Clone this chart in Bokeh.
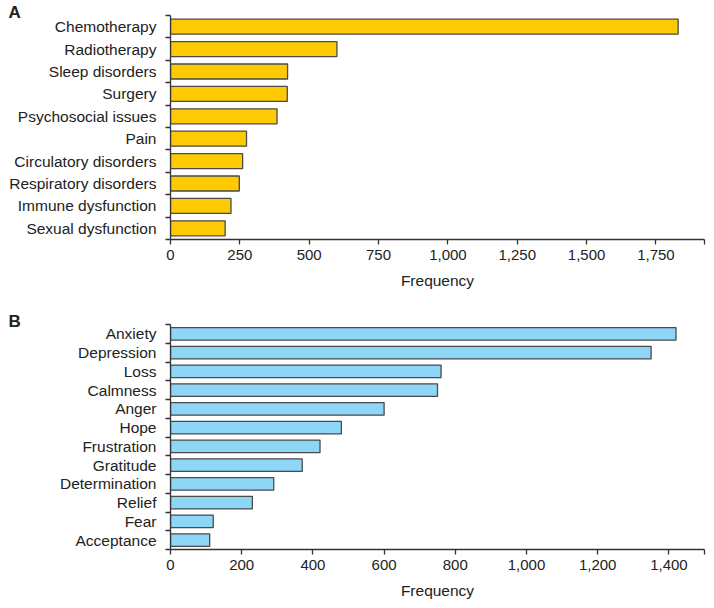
from bokeh.plotting import figure
from bokeh.models import ColumnDataSource, FixedTicker, Range1d, NumeralTickFormatter
from bokeh.layouts import column
from bokeh.embed import file_html
from bokeh.resources import INLINE

# ---- data ----
a_categories = ["Chemotherapy", "Radiotherapy", "Sleep disorders", "Surgery",
                "Psychosocial issues", "Pain", "Circulatory disorders",
                "Respiratory disorders", "Immune dysfunction", "Sexual dysfunction"]
a_values = [1830, 600, 422, 421, 384, 274, 260, 248, 218, 197]
a_xticks = [0, 250, 500, 750, 1000, 1250, 1500, 1750]
a_xmax = 1925

b_categories = ["Anxiety", "Depression", "Loss", "Calmness", "Anger", "Hope",
                "Frustration", "Gratitude", "Determination", "Relief", "Fear", "Acceptance"]
b_values = [1420, 1350, 760, 750, 600, 480, 420, 370, 290, 230, 120, 110]
b_xticks = [0, 200, 400, 600, 800, 1000, 1200, 1400]
b_xmax = 1500

FONT = "Liberation Sans"
TXT = "#222222"
AXC = "#333333"
FRAME_W = 534
LEFT = 170


def panel(letter, cats, vals, xticks, xmax, fill, top, frame_h, bottom, letter_standoff):
    n = len(cats)
    centers = [n - i - 0.5 for i in range(n)]
    src = ColumnDataSource(dict(y=centers, v=vals, name=cats))
    p = figure(frame_width=FRAME_W, frame_height=frame_h,
               x_range=Range1d(0, xmax), y_range=Range1d(0, n),
               output_backend="svg", toolbar_location=None,
               min_border_left=LEFT, min_border_right=10,
               min_border_top=top, min_border_bottom=bottom)
    p.hbar(y="y", left=0, right="v", height=0.67, source=src,
           fill_color=fill, line_color="#4a4a4a", line_width=1.3)
    p.outline_line_color = None
    p.grid.visible = False

    # panel letter as the plot title, pushed to the left edge
    p.title.text = letter
    p.title.align = "left"
    p.title.offset = -(LEFT - 8)
    p.title.standoff = letter_standoff
    p.title.text_font = FONT
    p.title.text_font_size = "17px"
    p.title.text_font_style = "bold"
    p.title.text_color = TXT

    # y axis: ticks at category boundaries, labels at centers
    ya = p.yaxis[0]
    ya.ticker = FixedTicker(ticks=centers, minor_ticks=list(range(n + 1)))
    ya.major_label_overrides = {c: name for c, name in zip(centers, cats)}
    ya.major_tick_out = 0
    ya.major_tick_in = 0
    ya.minor_tick_out = 5
    ya.minor_tick_in = 0
    ya.minor_tick_line_color = AXC
    ya.minor_tick_line_width = 1.3
    ya.axis_line_color = AXC
    ya.axis_line_width = 1.3
    ya.major_label_standoff = 9
    ya.major_label_text_font = FONT
    ya.major_label_text_font_size = "15.5px"
    ya.major_label_text_color = TXT

    xa = p.xaxis[0]
    xa.ticker = FixedTicker(ticks=xticks + [xmax], minor_ticks=[])
    xa.formatter = NumeralTickFormatter(format="0,0")
    xa.major_label_overrides = {xmax: ""}
    xa.major_tick_out = 5
    xa.major_tick_in = 0
    xa.major_tick_line_color = AXC
    xa.major_tick_line_width = 1.3
    xa.axis_line_color = AXC
    xa.axis_line_width = 1.3
    xa.major_label_standoff = 5
    xa.major_label_text_font = FONT
    xa.major_label_text_font_size = "15px"
    xa.major_label_text_color = TXT
    xa.axis_label = "Frequency"
    xa.axis_label_text_font = FONT
    xa.axis_label_text_font_size = "15.5px"
    xa.axis_label_text_font_style = "normal"
    xa.axis_label_text_color = TXT
    xa.axis_label_standoff = 9
    return p


pA = panel("A", a_categories, a_values, a_xticks, a_xmax, "#FFCA05", 15, 224, 69, -12.5)
pB = panel("B", b_categories, b_values, b_xticks, b_xmax, "#8DD6F6", 16, 225, 59, -12.5)

layout = column(pA, pB, spacing=0)
open("out.html", "w").write(file_html(layout, INLINE))
